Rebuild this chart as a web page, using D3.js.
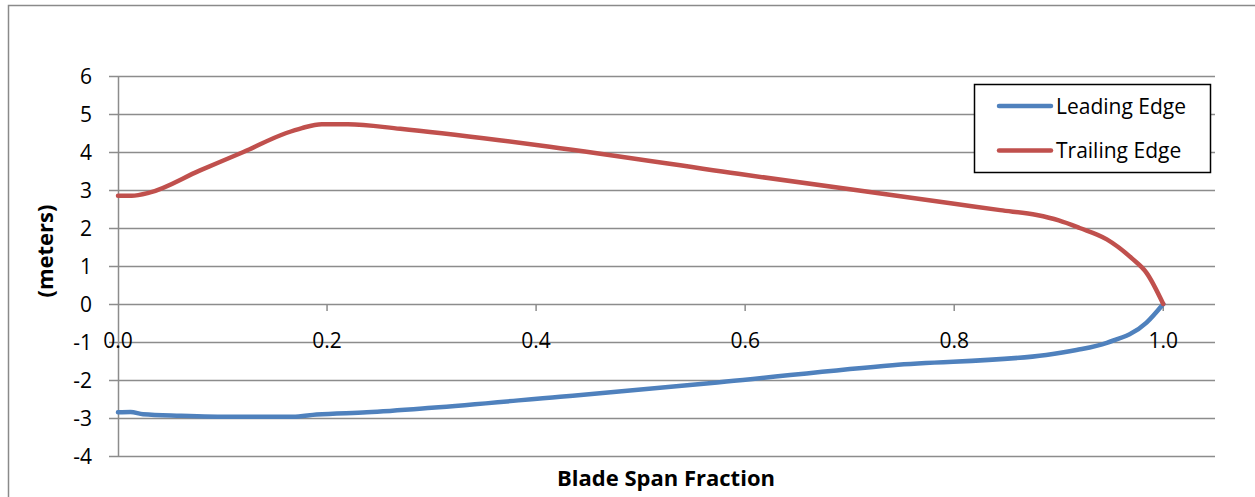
<!DOCTYPE html>
<html>
<head>
<meta charset="utf-8">
<script src="https://cdn.jsdelivr.net/npm/d3@7"></script>
<style>
  body { margin: 0; background: #fff; }
  svg { display: block; font-family: "Open Sans", Lato, sans-serif; }
</style>
</head>
<body>
<svg id="chart" width="1255" height="497"></svg>
<script>
"use strict";

// span fraction / offset in meters
const leadingSpan = [0, 0.012, 0.024, 0.06, 0.11, 0.167, 0.19, 0.238, 0.30, 0.423, 0.461, 0.582, 0.741, 0.888, 0.917, 0.946, 0.984, 1.0];
const leadingEdge = [-2.85, -2.84, -2.90, -2.94, -2.97, -2.97, -2.91, -2.85, -2.73, -2.44, -2.35, -2.04, -1.61, -1.34, -1.21, -1.02, -0.49, 0.0];

const trailingSpan = [0, 0.013, 0.03, 0.078, 0.12, 0.161, 0.176, 0.195, 0.22, 0.27, 0.365, 0.413, 0.6, 0.8, 0.844, 0.879, 0.90, 0.92, 0.946, 0.97, 0.984, 1.0];
const trailingEdge = [2.85, 2.85, 2.93, 3.51, 4.0, 4.50, 4.63, 4.73, 4.73, 4.61, 4.31, 4.14, 3.40, 2.64, 2.47, 2.34, 2.20, 2.0, 1.70, 1.20, 0.82, 0.0];

const seriesNames = ["Leading Edge", "Trailing Edge"];
const seriesColors = ["#4F81BD", "#C0504D"];

const xTicks = [0, 0.2, 0.4, 0.6, 0.8, 1.0];
const yTicks = [-4, -3, -2, -1, 0, 1, 2, 3, 4, 5, 6];

const svg = d3.select("#chart");

// chart frame (only top and left edges fall inside the picture)
svg.append("path")
	.attr("d", "M8.5,497 V5.5 H1255")
	.attr("fill", "none")
	.attr("stroke", "#8a8a8a")
	.attr("stroke-width", 1.5);

const x = d3.scaleLinear().domain([0, 1.0495]).range([118, 1215]);
const y = d3.scaleLinear().domain([-4, 6]).range([456, 76]);

// horizontal gridlines
svg.append("g")
	.selectAll("line")
	.data(yTicks)
	.join("line")
	.attr("x1", 109).attr("x2", 1215)
	.attr("y1", d => Math.round(y(d)) + 0.5)
	.attr("y2", d => Math.round(y(d)) + 0.5)
	.attr("stroke", "#8c8c8c")
	.attr("stroke-width", 1.5);

// y axis line
svg.append("line")
	.attr("x1", 118.5).attr("x2", 118.5)
	.attr("y1", y(6)).attr("y2", y(-4))
	.attr("stroke", "#8c8c8c")
	.attr("stroke-width", 1.5);

// y labels
svg.append("g")
	.selectAll("text")
	.data(yTicks)
	.join("text")
	.attr("x", 92)
	.attr("y", d => y(d) + 7.5)
	.attr("text-anchor", "end")
	.attr("font-size", 21)
	.attr("fill", "#000")
	.text(d => d);

// x ticks sit on the zero line
svg.append("g")
	.selectAll("line")
	.data(xTicks.slice(1))
	.join("line")
	.attr("x1", d => x(d)).attr("x2", d => x(d))
	.attr("y1", y(0)).attr("y2", y(0) + 7)
	.attr("stroke", "#8c8c8c")
	.attr("stroke-width", 1.5);

svg.append("g")
	.selectAll("text")
	.data(xTicks)
	.join("text")
	.attr("x", d => x(d))
	.attr("y", y(0) + 44)
	.attr("text-anchor", "middle")
	.attr("font-size", 21)
	.attr("fill", "#000")
	.text(d => d3.format(".1f")(d));

// axis titles
svg.append("text")
	.attr("transform", "translate(53,251) rotate(-90)")
	.attr("text-anchor", "middle")
	.attr("font-size", 22)
	.attr("font-weight", "bold")
	.text("(meters)");

svg.append("text")
	.attr("x", 666)
	.attr("y", 486)
	.attr("text-anchor", "middle")
	.attr("font-size", 22)
	.attr("font-weight", "bold")
	.text("Blade Span Fraction");

// series lines
const line = d3.line()
	.x(d => x(d[0]))
	.y(d => y(d[1]))
	.curve(d3.curveMonotoneX);

const series = [
	d3.zip(leadingSpan, leadingEdge),
	d3.zip(trailingSpan, trailingEdge)
];

svg.append("g")
	.attr("fill", "none")
	.attr("stroke-width", 4.5)
	.attr("stroke-linejoin", "round")
	.attr("stroke-linecap", "round")
	.selectAll("path")
	.data(series)
	.join("path")
	.attr("stroke", (d, i) => seriesColors[i])
	.attr("d", line);

// legend
const legend = svg.append("g");
legend.append("rect")
	.attr("x", 974.5).attr("y", 84.5)
	.attr("width", 236).attr("height", 88)
	.attr("fill", "#fff")
	.attr("stroke", "#000")
	.attr("stroke-width", 1.5);

seriesNames.forEach((name, i) => {
	const ly = 106 + i * 44.5;
	legend.append("line")
		.attr("x1", 999).attr("x2", 1051)
		.attr("y1", ly).attr("y2", ly)
		.attr("stroke", seriesColors[i])
		.attr("stroke-width", 4.5)
		.attr("stroke-linecap", "round");
	legend.append("text")
		.attr("x", 1056)
		.attr("y", ly + 7.5)
		.attr("font-size", 21)
		.attr("fill", "#000")
		.text(name);
});
</script>
</body>
</html>
